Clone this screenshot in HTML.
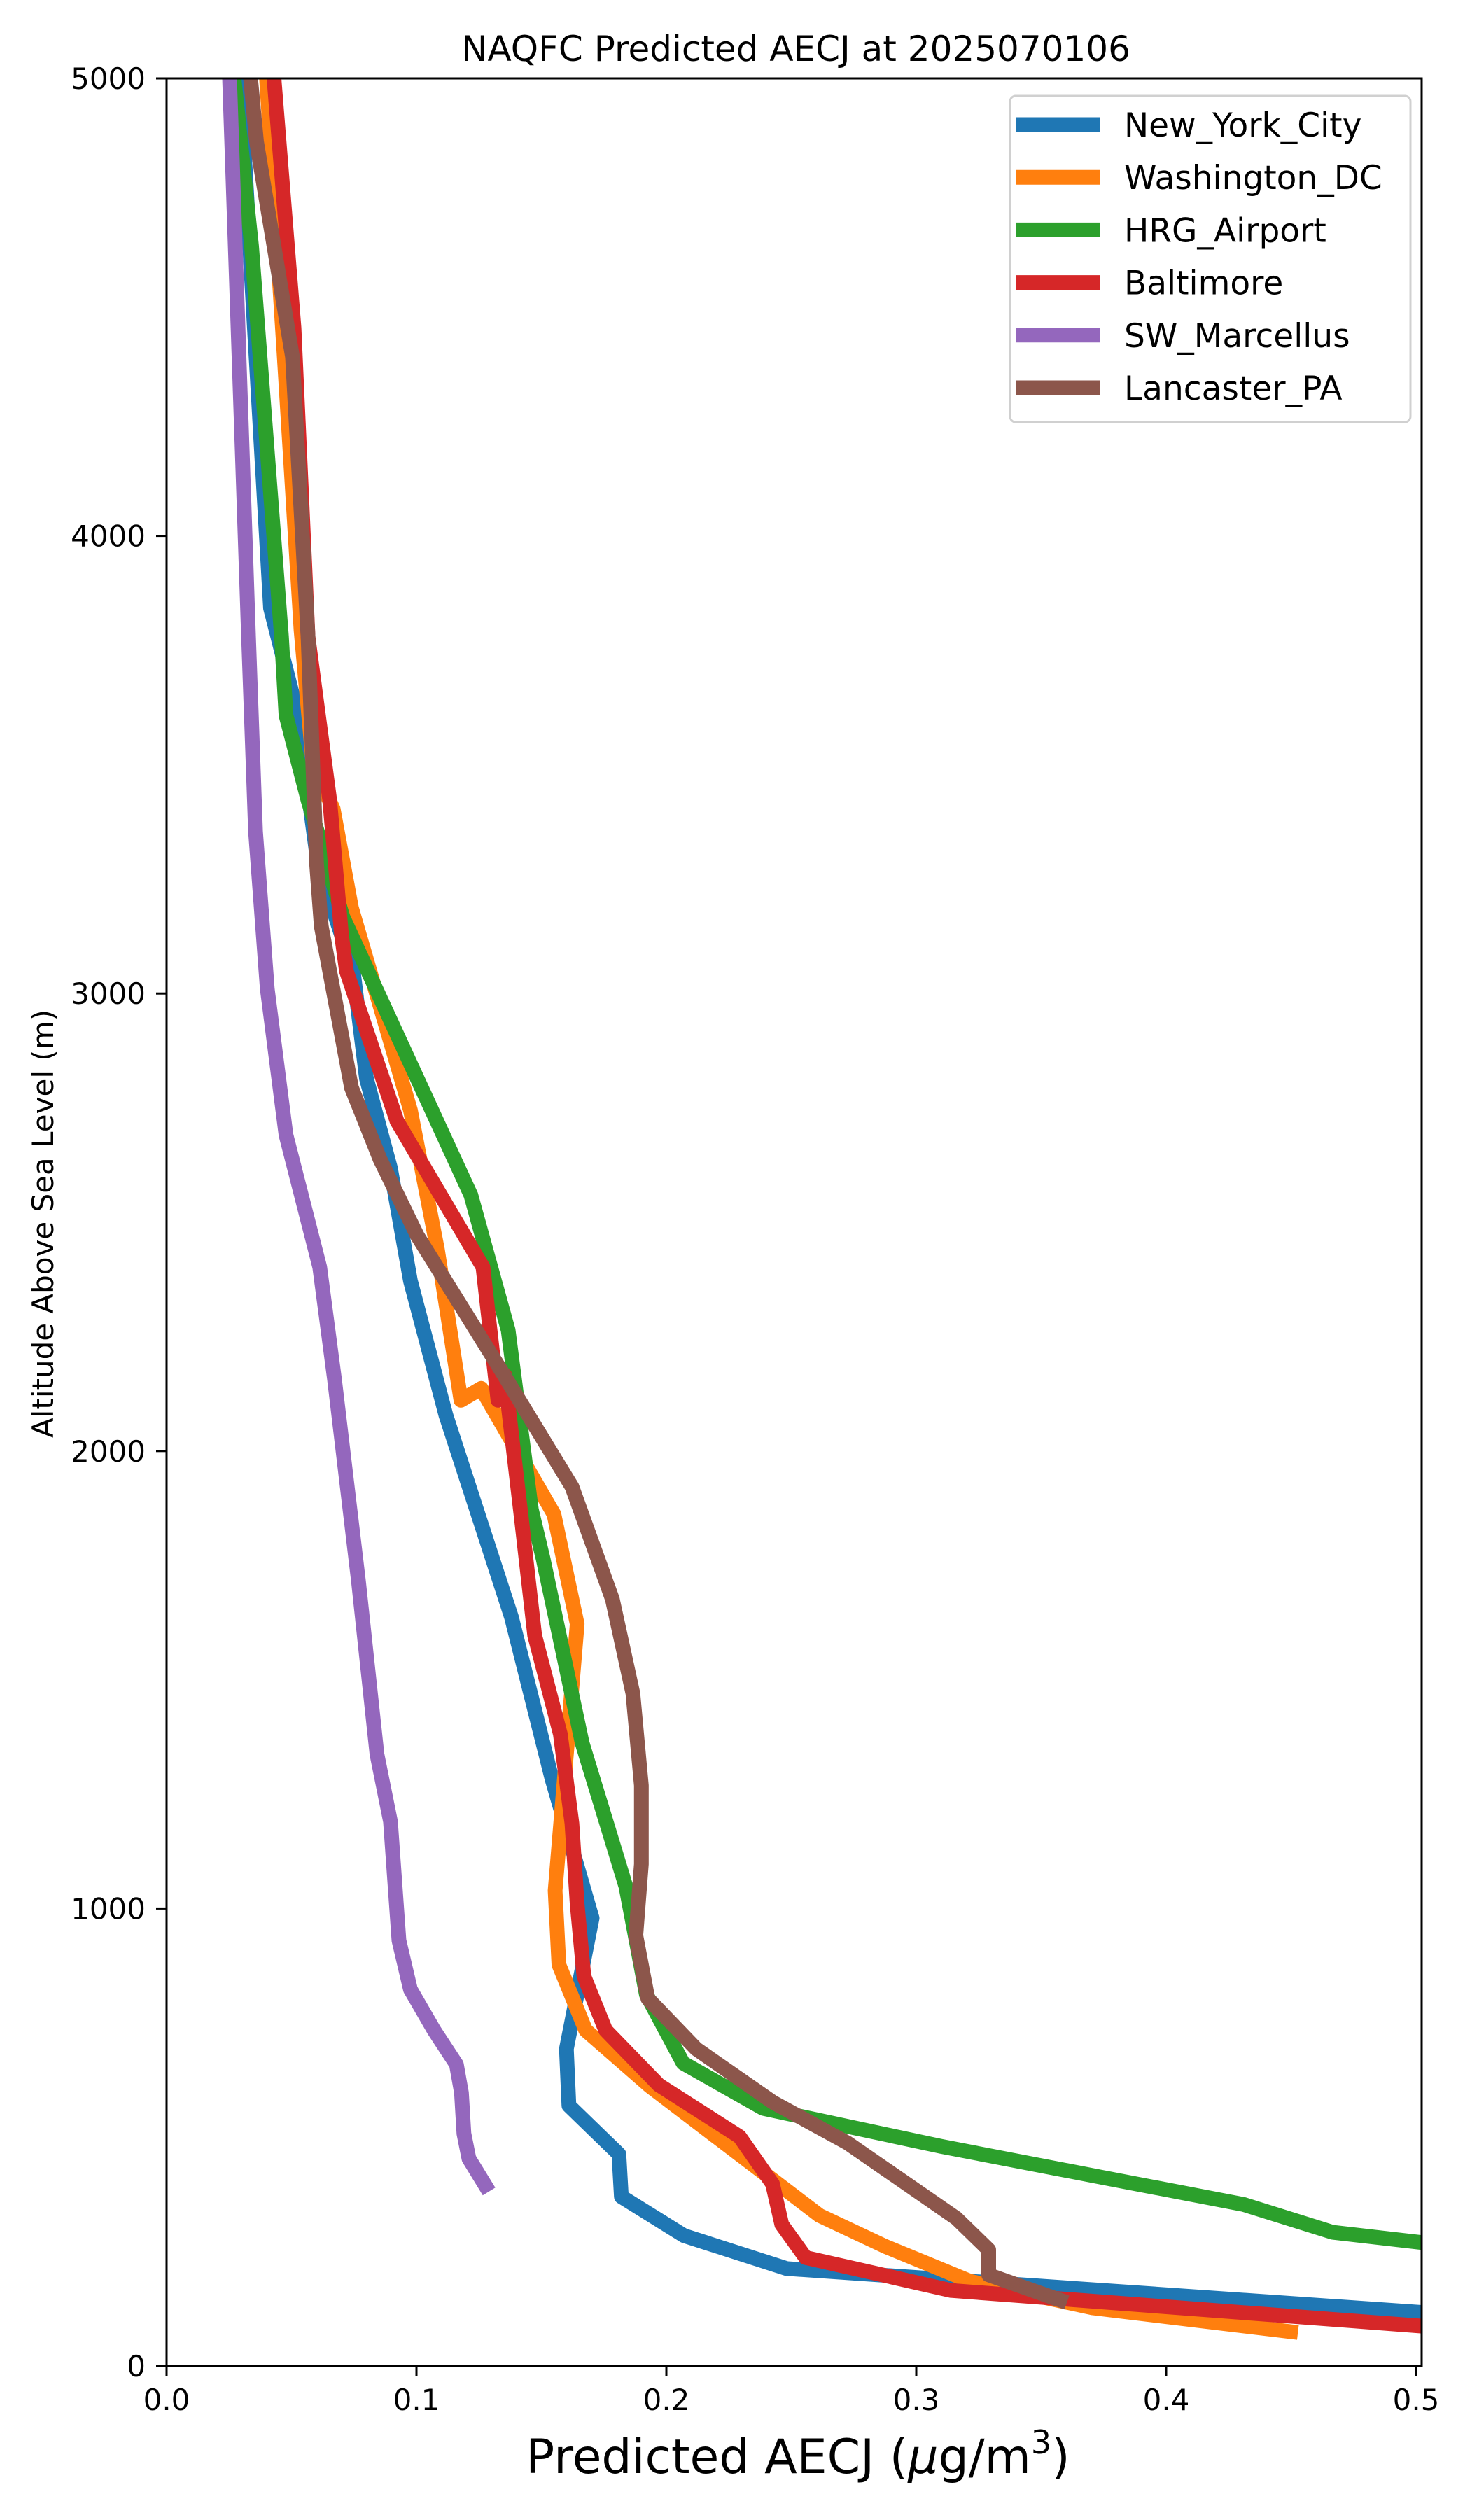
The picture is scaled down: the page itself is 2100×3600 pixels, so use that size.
<!DOCTYPE html>
<html><head><meta charset="utf-8"><title>NAQFC Predicted AECJ</title>
<style>html,body{margin:0;padding:0;background:#fff;}svg{display:block;font-family:"DejaVu Sans","Liberation Sans",sans-serif;}</style>
</head><body>
<svg id="chart" xmlns="http://www.w3.org/2000/svg" width="2100" height="3600" viewBox="0 0 2100 3600">
<rect width="2100" height="3600" fill="#fff"/>
<defs><clipPath id="plotclip"><rect x="238" y="112" width="1793" height="3268"/></clipPath></defs>
<text x="1137" y="87" font-size="50" text-anchor="middle">NAQFC Predicted AECJ at 2025070106</text>
<g id="series" clip-path="url(#plotclip)"></g>
<rect x="238" y="112" width="1793" height="3268" fill="none" stroke="#000" stroke-width="3"/>
<g id="xticks"></g>
<g id="yticks"></g>
<text x="1140" y="3533" font-size="68" text-anchor="middle">Predicted AECJ (<tspan font-style="italic">μ</tspan>g/m<tspan font-size="46" dy="-28">3</tspan><tspan dy="28">)</tspan></text>
<text x="0" y="0" font-size="42" text-anchor="middle" transform="translate(76,1748) rotate(-90)">Altitude Above Sea Level (m)</text>
<g id="legend">
<rect x="1443" y="137" width="572" height="466" rx="8" fill="#fff" fill-opacity="0.8" stroke="#d0d0d0" stroke-width="3"/>
</g>
</svg>
<script>
const seriesNames = ["New_York_City","Washington_DC","HRG_Airport","Baltimore","SW_Marcellus","Lancaster_PA"];
const seriesColors = ["#1f77b4","#ff7f0e","#2ca02c","#d62728","#9467bd","#8c564b"];
const nycAlt = [5000,3842,3608,3286,3049,2814,2618,2372,2078,1637,1284,979,693,569,463,370,285,213,116];
const nycVal = [0.0294,0.0416,0.0525,0.0605,0.0747,0.080,0.0896,0.0976,0.1118,0.138,0.1542,0.1703,0.160,0.161,0.181,0.182,0.207,0.248,0.505];
const dcAlt = [5000,4400,3794,3503,3403,3187,2745,2440,2111,2137,1862,1622,1039,877,734,611,329,261,185,127,75];
const dcVal = [0.040,0.047,0.0538,0.0586,0.0667,0.074,0.0976,0.1084,0.1178,0.1259,0.155,0.1643,0.1555,0.157,0.1677,0.1935,0.2613,0.2877,0.3216,0.3706,0.4498];
const hrgAlt = [5000,4634,3779,3608,3422,3167,2559,2264,1872,1764,1362,1048,812,662,563,480,412,353,292,268];
const hrgVal = [0.027,0.034,0.046,0.0478,0.0566,0.0706,0.1218,0.1367,0.146,0.1507,0.1663,0.1838,0.192,0.2067,0.2387,0.310,0.3745,0.431,0.4667,0.505];
const balAlt = [5000,4454,3779,3422,3128,3049,2721,2402,2111,2166,1853,1597,1381,1186,1009,852,734,614,501,398,309,237,165,86];
const balVal = [0.043,0.051,0.0566,0.0653,0.070,0.072,0.0922,0.1266,0.1326,0.1353,0.142,0.1473,0.1576,0.1622,0.1643,0.167,0.1757,0.197,0.2293,0.2425,0.2462,0.2557,0.314,0.505];
const swmAlt = [5000,3779,3354,3010,2691,2402,2157,1715,1337,1190,930,823,734,659,597,508,453,395];
const swmVal = [0.0252,0.0328,0.0356,0.0403,0.0478,0.0613,0.0672,0.0768,0.0842,0.0896,0.093,0.0976,0.107,0.116,0.118,0.119,0.121,0.1275];
const lanAlt = [5000,4862,4391,3779,3286,3147,2794,2638,2471,2176,1922,1676,1470,1269,1097,941,803,693,577,487,323,254,199,144];
const lanVal = [0.0336,0.036,0.0504,0.0566,0.060,0.0619,0.074,0.0854,0.1003,0.1339,0.1622,0.1784,0.1866,0.190,0.190,0.1878,0.1926,0.212,0.2425,0.2726,0.316,0.329,0.329,0.3575];
const xTicks = [0.0,0.1,0.2,0.3,0.4,0.5];
const xTickLabels = ["0.0","0.1","0.2","0.3","0.4","0.5"];
const yTicks = [0,1000,2000,3000,4000,5000];
const yTickLabels = ["0","1000","2000","3000","4000","5000"];

const NS = "http://www.w3.org/2000/svg";
function xs(v){ return 238 + v * 3570; }
function ys(a){ return 3380 - a * 0.6536; }
const allAlt = [nycAlt,dcAlt,hrgAlt,balAlt,swmAlt,lanAlt];
const allVal = [nycVal,dcVal,hrgVal,balVal,swmVal,lanVal];
const sg = document.getElementById("series");
for (let i = 0; i < seriesNames.length; i++) {
  const p = document.createElementNS(NS, "polyline");
  p.setAttribute("points", allVal[i].map((v, j) => xs(v).toFixed(1) + "," + ys(allAlt[i][j]).toFixed(1)).join(" "));
  p.setAttribute("fill", "none");
  p.setAttribute("stroke", seriesColors[i]);
  p.setAttribute("stroke-width", "21");
  p.setAttribute("stroke-linejoin", "round");
  p.setAttribute("stroke-linecap", "square");
  
  
  sg.appendChild(p);
}
const xg = document.getElementById("xticks");
xTicks.forEach((t, i) => {
  const l = document.createElementNS(NS, "line");
  l.setAttribute("x1", xs(t)); l.setAttribute("x2", xs(t));
  l.setAttribute("y1", 3380); l.setAttribute("y2", 3395);
  l.setAttribute("stroke", "#000"); l.setAttribute("stroke-width", "3");
  
  
  xg.appendChild(l);
  const tx = document.createElementNS(NS, "text");
  tx.setAttribute("x", xs(t)); tx.setAttribute("y", 3443);
  tx.setAttribute("font-size", "42"); tx.setAttribute("text-anchor", "middle");
  tx.textContent = xTickLabels[i];
  
  
  xg.appendChild(tx);
});
const yg = document.getElementById("yticks");
yTicks.forEach((t, i) => {
  const l = document.createElementNS(NS, "line");
  l.setAttribute("x1", 223); l.setAttribute("x2", 238);
  l.setAttribute("y1", ys(t)); l.setAttribute("y2", ys(t));
  l.setAttribute("stroke", "#000"); l.setAttribute("stroke-width", "3");
  
  
  yg.appendChild(l);
  const tx = document.createElementNS(NS, "text");
  tx.setAttribute("x", 208); tx.setAttribute("y", ys(t) + 15);
  tx.setAttribute("font-size", "42"); tx.setAttribute("text-anchor", "end");
  tx.textContent = yTickLabels[i];
  
  
  yg.appendChild(tx);
});
const lg = document.getElementById("legend");
seriesNames.forEach((n, i) => {
  const cy = 178 + i * 75.2;
  const l = document.createElementNS(NS, "line");
  l.setAttribute("x1", 1451); l.setAttribute("x2", 1572);
  l.setAttribute("y1", cy); l.setAttribute("y2", cy);
  l.setAttribute("stroke", seriesColors[i]); l.setAttribute("stroke-width", "21");
  
  
  lg.appendChild(l);
  const tx = document.createElementNS(NS, "text");
  tx.setAttribute("x", 1606); tx.setAttribute("y", cy + 17);
  tx.setAttribute("font-size", "47");
  tx.textContent = n;
  
  
  lg.appendChild(tx);
});
</script>
</body></html>
